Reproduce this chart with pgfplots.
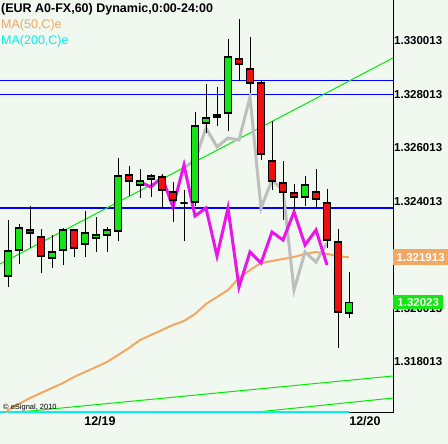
\documentclass[border=0pt]{standalone}
\usepackage{fontspec}
\setmainfont{Liberation Sans}
\usepackage{pgfplots}
\usepackage{pgfplotstable}
\pgfplotsset{compat=1.18}
\definecolor{bg}{RGB}{240,248,240}
\definecolor{cgreen}{RGB}{20,230,20}
\definecolor{cred}{RGB}{238,16,16}
\definecolor{cmag}{RGB}{235,20,235}
\definecolor{cgray}{RGB}{190,190,190}
\definecolor{corange}{RGB}{242,168,98}
\definecolor{ccyan}{RGB}{0,240,240}
\definecolor{ctrend}{RGB}{0,235,0}
\definecolor{cblue}{RGB}{0,0,255}

\pgfplotstableread{
i O H L C
0 1.321216 1.323310 1.320805 1.322151
1 1.322188 1.323160 1.321665 1.323011
4 1.321889 1.322749 1.321515 1.322113
5 1.322188 1.323011 1.321628 1.322936
7 1.322413 1.323646 1.321927 1.322824
8 1.322637 1.323422 1.322113 1.322749
9 1.322749 1.323048 1.322113 1.322936
10 1.322899 1.325627 1.322525 1.324955
12 1.324618 1.325216 1.324132 1.324768
13 1.324842 1.325029 1.324170 1.324955
16 1.323945 1.324431 1.322525 1.323945
17 1.323983 1.327347 1.323833 1.326824
18 1.326936 1.328394 1.326562 1.327123
19 1.327160 1.328282 1.326824 1.327235
20 1.327310 1.330076 1.326637 1.329403
27 1.324170 1.324955 1.323833 1.324618
31 1.319833 1.321366 1.319646 1.320230
}\greentab

\pgfplotstableread{
i O H L C
2 1.322936 1.323833 1.322263 1.322824
3 1.322674 1.322973 1.321328 1.321964
6 1.322936 1.322936 1.321927 1.322263
11 1.324992 1.325328 1.324207 1.324768
14 1.324917 1.325029 1.323758 1.324431
15 1.324356 1.324730 1.323235 1.324057
21 1.329328 1.330824 1.328506 1.329141
22 1.328955 1.330151 1.328057 1.328431
23 1.328431 1.328506 1.325553 1.325777
24 1.325515 1.327011 1.324431 1.324768
25 1.324693 1.325515 1.323310 1.324356
26 1.324319 1.324656 1.323684 1.324170
28 1.324356 1.325216 1.323758 1.324095
29 1.323945 1.324469 1.322263 1.322562
30 1.322487 1.322973 1.318525 1.319870
}\redtab

\newcommand\drawcandle[3]{% table, row, colour
  \pgfplotstablegetelem{#2}{i}\of#1\let\cX\pgfplotsretval
  \pgfplotstablegetelem{#2}{O}\of#1\let\cO\pgfplotsretval
  \pgfplotstablegetelem{#2}{H}\of#1\let\cH\pgfplotsretval
  \pgfplotstablegetelem{#2}{L}\of#1\let\cL\pgfplotsretval
  \pgfplotstablegetelem{#2}{C}\of#1\let\cC\pgfplotsretval
  \pgfmathsetmacro\cXl{\cX-0.33}%
  \pgfmathsetmacro\cXr{\cX+0.33}%
  \edef\tmp{\noexpand\addplot[black,line width=1bp] coordinates {(\cX,\cL) (\cX,\cH)};
    \noexpand\addplot[draw=black,fill=#3,line width=1.5bp] coordinates {(\cXl,\cO) (\cXr,\cO) (\cXr,\cC) (\cXl,\cC)} -- cycle;}%
  \tmp
}

\begin{document}
\begin{tikzpicture}
\fill[bg] (0,0) rectangle (448bp,444bp);
\begin{axis}[
  at={(0bp,31bp)}, anchor=south west,
  width=393bp, height=413bp, scale only axis,
  xmin=-0.7273, xmax=35.0, ymin=1.316095, ymax=1.331534,
  axis x line*=bottom, axis y line*=right,
  axis line style={black, line width=1bp},
  xtick={8.36,32.45}, xticklabels={12/19,12/20},
  ytick={1.318013,1.320013,1.324013,1.326013,1.328013,1.330013},
  yticklabels={1.318013,1.320013,1.324013,1.326013,1.328013,1.330013},
  scaled y ticks=false,
  major tick length=0pt,
  /pgf/number format/assume math mode=true,
  yticklabel style={font=\bfseries\fontsize{11.5bp}{13bp}\selectfont, anchor=west, inner sep=1bp},
  xticklabel style={font=\bfseries\fontsize{12.5bp}{14bp}\selectfont, anchor=north, inner sep=0pt, yshift=-3bp},
  clip mode=individual,
]
% horizontal blue lines
\addplot[cblue, line width=1.2bp] coordinates {(-0.7273,1.328533) (35,1.328533)};
\addplot[cblue, line width=1.2bp] coordinates {(-0.7273,1.328009) (35,1.328009)};
\addplot[cblue, line width=1.2bp] coordinates {(-0.7273,1.323758) (35,1.323758)};
% trend lines
\addplot[ctrend, line width=1bp] coordinates {(-0.7273,1.321665) (35,1.329366)};
\addplot[ctrend, line width=1bp] coordinates {(1.09,1.316132) (35,1.317478)};
\addplot[ctrend, line width=1bp] coordinates {(22.64,1.316132) (35,1.316655)};
% MA200 (cyan) at bottom
\addplot[ccyan, line width=2bp] coordinates {(-0.7273,1.316140) (31,1.316140)};
% MA50 (orange)
\addplot[corange, line width=2bp] coordinates {
(-0.2,1.316060) (0,1.316207) (1,1.316431) (2,1.316656) (3,1.316842) (4,1.317029)
(5,1.317216) (6,1.317441) (7,1.317628) (8,1.317814) (9,1.318001) (10,1.318263)
(11,1.318525) (12,1.318824) (13,1.319011) (14,1.319198) (15,1.319385) (16,1.319534)
(17,1.319796) (18,1.320170) (19,1.320431) (20,1.320693) (21,1.321142) (22,1.321441)
(23,1.321702) (24,1.321777) (25,1.321852) (26,1.321927) (27,1.322039) (28,1.322113)
(29,1.322039) (30,1.321964) (31,1.321913)};
% gray zigzag
\addplot[cgray, line width=3bp] coordinates {
(16,1.325254) (17,1.325553) (18,1.326749) (19,1.326039) (20,1.326375) (21,1.326300)
(22,1.327908) (23,1.323758) (24,1.324805) (25,1.324431) (26,1.320693) (27,1.322113)
(28,1.321740) (29,1.322450)};
% magenta zigzag
\addplot[cmag, line width=3bp] coordinates {
(12,1.324730) (13,1.324543) (14,1.324917) (15,1.323796) (16,1.325366) (17,1.323459)
(18,1.323758) (19,1.321964) (20,1.323758) (21,1.320805) (22,1.322113) (23,1.321702)
(24,1.322861) (25,1.322562) (26,1.323609) (27,1.322375) (28,1.322936) (29,1.321628)};
% candles
\pgfplotsforeachungrouped \r in {0,...,16}{\drawcandle{\greentab}{\r}{cgreen}}
\pgfplotsforeachungrouped \r in {0,...,14}{\drawcandle{\redtab}{\r}{cred}}
% price boxes
\node[fill=corange, text=white, font=\bfseries\fontsize{11.5bp}{13bp}\selectfont, anchor=west, inner sep=0pt, minimum width=55bp, minimum height=16bp] at (axis cs:35,1.321913) {1.321913};
\node[fill=cgreen, text=white, font=\bfseries\fontsize{11.5bp}{13bp}\selectfont, anchor=west, inner sep=0pt, minimum width=50bp, minimum height=14bp] at (axis cs:35,1.320230) {1.32023};
\end{axis}
\node[anchor=base west, inner sep=0pt, font=\bfseries\fontsize{12.5bp}{14bp}\selectfont] at (1bp,431bp) {(EUR A0-FX,60) Dynamic,0:00-24:00};
\node[anchor=base west, inner sep=0pt, text=corange, font=\fontsize{12.5bp}{14bp}\selectfont] at (1bp,415bp) {MA(50,C)e};
\node[anchor=base west, inner sep=0pt, text=ccyan, font=\fontsize{12.5bp}{14bp}\selectfont] at (1bp,399bp) {MA(200,C)e};
\node[anchor=base west, inner sep=0pt, font=\fontsize{7.5bp}{8bp}\selectfont] at (3bp,35bp) {\textcopyright{} eSignal, 2010};
\pgfresetboundingbox
\useasboundingbox (0,0) rectangle (448bp,444bp);
\end{tikzpicture}
\end{document}
